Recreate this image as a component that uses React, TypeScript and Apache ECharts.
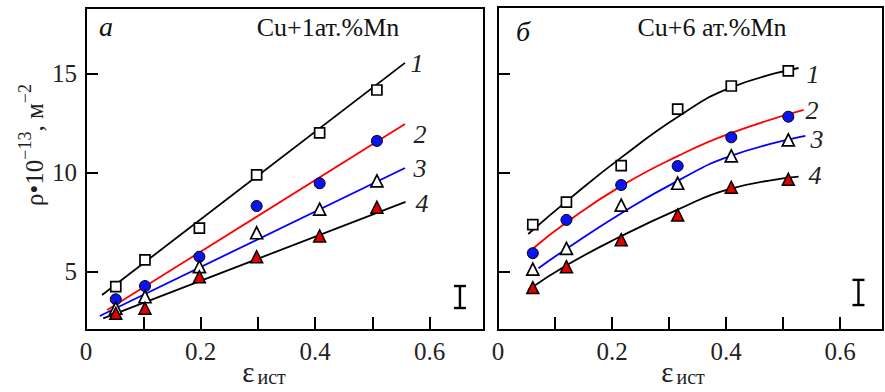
import React, { useEffect, useRef } from 'react';
import * as echarts from 'echarts';

// Panel a: Cu+1ат.%Mn
const xA = [0.052, 0.103, 0.198, 0.298, 0.408, 0.508];
const a1 = [4.26, 5.61, 7.21, 9.9, 12.02, 14.19];
const a2 = [3.62, 4.29, 5.77, 8.33, 9.48, 11.62];
const a3 = [3.17, 3.75, 5.27, 6.98, 8.17, 9.6];
const a4 = [2.91, 3.17, 4.76, 5.77, 6.82, 8.27];
const fitAx1 = [0.028, 0.557];
const fitA1 = [3.84, 15.56];
const fitAx2 = [0.037, 0.557];
const fitA2 = [3.08, 12.47];
const fitAx3 = [0.024, 0.557];
const fitA3 = [2.78, 10.25];
const fitAx4 = [0.03, 0.558];
const fitA4 = [2.66, 8.54];
const errA = [0.653, 3.18, 4.29];

// Panel б: Cu+6 ат.%Mn
const xB = [0.061, 0.12, 0.216, 0.315, 0.409, 0.509];
const b1 = [7.39, 8.53, 10.37, 13.22, 14.39, 15.15];
const b2 = [5.95, 7.63, 9.39, 10.35, 11.8, 12.84];
const b3 = [5.14, 6.19, 8.38, 9.48, 10.86, 11.67];
const b4 = [4.21, 5.27, 6.63, 7.88, 9.28, 9.68];
const fitBx1 = [0.053, 0.129, 0.217, 0.319, 0.407, 0.527];
const fitB1 = [6.92, 8.78, 10.8, 12.9, 14.3, 15.3];
const fitBx2 = [0.062, 0.118, 0.214, 0.315, 0.407, 0.536];
const fitB2 = [6.2, 7.46, 9.31, 10.85, 12.0, 13.18];
const fitBx3 = [0.071, 0.119, 0.217, 0.315, 0.407, 0.539];
const fitB3 = [5.19, 6.15, 7.98, 9.6, 10.85, 11.87];
const fitBx4 = [0.053, 0.121, 0.212, 0.315, 0.407, 0.527];
const fitB4 = [4.09, 5.35, 6.75, 8.15, 9.2, 9.81];
const errB = [0.632, 3.33, 4.6];

const yTicks = [5, 10, 15];
const xTicks = [0.1, 0.2, 0.3, 0.4, 0.5, 0.6];
const xLabels = [0, 0.2, 0.4, 0.6];

const FONT = 'Liberation Serif';

const zip = (xs: number[], ys: number[]) => xs.map((x, i) => [x, ys[i]]);

function App() {
  const ref = useRef<HTMLDivElement>(null);
  useEffect(() => {
    if (!ref.current) return;
    const chart = echarts.init(ref.current, null, { renderer: 'svg' });

    const mkX = (idx: number, max: number) => ({
      type: 'value',
      gridIndex: idx,
      min: 0,
      max,
      axisLine: { show: true, lineStyle: { color: '#000', width: 2 } },
      axisTick: {
        show: true,
        inside: true,
        length: 13,
        customValues: xTicks,
        lineStyle: { color: '#000', width: 2 },
      },
      axisLabel: {
        show: true,
        customValues: xLabels,
        margin: 9,
        fontFamily: FONT,
        fontSize: 25,
        color: '#222',
        formatter: (v: number) => (v === 0 ? '0' : v.toFixed(1)),
      },
      splitLine: { show: false },
    });
    const mkY = (idx: number, showLabels: boolean) => ({
      type: 'value',
      gridIndex: idx,
      min: 2.07,
      max: idx === 0 ? 18.33 : 18.38,
      axisLine: { show: true, lineStyle: { color: '#000', width: 2 } },
      axisTick: {
        show: true,
        inside: true,
        length: 12,
        customValues: yTicks,
        lineStyle: { color: '#000', width: 2 },
      },
      axisLabel: {
        show: showLabels,
        customValues: yTicks,
        margin: 9,
        fontFamily: FONT,
        fontSize: 25,
        color: '#222',
      },
      splitLine: { show: false },
    });

    const lineS = (idx: number, xs: number[], ys: number[], color: string, smooth: boolean) => ({
      type: 'line',
      xAxisIndex: idx,
      yAxisIndex: idx,
      data: zip(xs, ys),
      showSymbol: false,
      smooth: smooth ? 0.5 : false,
      lineStyle: { color, width: 1.8 },
      z: 2,
    });
    const pts = (idx: number, ys: number[], xs: number[], kind: number) => {
      const styles: any[] = [
        { symbol: 'rect', symbolSize: 10, itemStyle: { color: '#fff', borderColor: '#000', borderWidth: 1.7, opacity: 1 } },
        { symbol: 'circle', symbolSize: 11, itemStyle: { color: '#0a14f0', borderColor: '#000', borderWidth: 1, opacity: 1 } },
        { symbol: 'triangle', symbolSize: 12, itemStyle: { color: '#fff', borderColor: '#000', borderWidth: 1.7, opacity: 1 } },
        { symbol: 'triangle', symbolSize: 12, itemStyle: { color: '#e00000', borderColor: '#000', borderWidth: 1.5, opacity: 1 } },
      ];
      return {
        type: 'scatter',
        xAxisIndex: idx,
        yAxisIndex: idx,
        data: zip(xs, ys),
        z: 5,
        ...styles[kind],
      };
    };
    const errS = (idx: number, e: number[]) => ({
      type: 'custom',
      xAxisIndex: idx,
      yAxisIndex: idx,
      data: [e],
      z: 5,
      renderItem: (_p: any, api: any) => {
        const lo = api.coord([api.value(0), api.value(1)]);
        const hi = api.coord([api.value(0), api.value(2)]);
        const w = 6;
        const st = { stroke: '#000', lineWidth: 2.4 };
        return {
          type: 'group',
          children: [
            { type: 'line', shape: { x1: lo[0], y1: lo[1], x2: hi[0], y2: hi[1] }, style: st },
            { type: 'line', shape: { x1: lo[0] - w, y1: lo[1], x2: lo[0] + w, y2: lo[1] }, style: st },
            { type: 'line', shape: { x1: hi[0] - w, y1: hi[1], x2: hi[0] + w, y2: hi[1] }, style: st },
          ],
        };
      },
    });

    const numText = (x: number, y: number, t: string) => ({
      type: 'text',
      x,
      y,
      style: {
        text: t,
        fontFamily: FONT,
        fontStyle: 'italic',
        fontSize: 26,
        fill: '#222',
        align: 'center',
        verticalAlign: 'middle',
      },
    });
    const plain = (x: number, y: number, t: string, size: number, italic = false) => ({
      type: 'text',
      x,
      y,
      style: {
        text: t,
        fontFamily: FONT,
        fontStyle: italic ? 'italic' : 'normal',
        fontSize: size,
        fill: '#111',
        align: 'center',
        verticalAlign: 'middle',
      },
    });
    const epsLabel = (x: number, y: number) => ({
      type: 'text',
      x,
      y,
      style: {
        text: '{e|ε}{s|ист}',
        align: 'center',
        verticalAlign: 'middle',
        rich: {
          e: { fontFamily: FONT, fontSize: 29, fill: '#222', lineHeight: 30, verticalAlign: 'middle' },
          s: { fontFamily: FONT, fontSize: 20, fill: '#222', verticalAlign: 'bottom', padding: [0, 0, 0, 3] },
        },
      },
    });

    chart.setOption({
      animation: false,
      backgroundColor: '#fff',
      grid: [
        { left: 86, top: 8, width: 398, height: 322, show: true, borderColor: '#000', borderWidth: 2 },
        { left: 498, top: 7, width: 385, height: 323, show: true, borderColor: '#000', borderWidth: 2 },
      ],
      xAxis: [mkX(0, 0.695), mkX(1, 0.675)],
      yAxis: [mkY(0, true), mkY(1, false)],
      series: [
        lineS(0, fitAx1, fitA1, '#000', false),
        lineS(0, fitAx2, fitA2, '#ff0000', false),
        lineS(0, fitAx3, fitA3, '#0000ff', false),
        lineS(0, fitAx4, fitA4, '#000', false),
        pts(0, a1, xA, 0),
        pts(0, a2, xA, 1),
        pts(0, a3, xA, 2),
        pts(0, a4, xA, 3),
        errS(0, errA),
        lineS(1, fitBx1, fitB1, '#000', true),
        lineS(1, fitBx2, fitB2, '#ff0000', true),
        lineS(1, fitBx3, fitB3, '#0000ff', true),
        lineS(1, fitBx4, fitB4, '#000', true),
        pts(1, b1, xB, 0),
        pts(1, b2, xB, 1),
        pts(1, b3, xB, 2),
        pts(1, b4, xB, 3),
        errS(1, errB),
      ],
      graphic: [
        plain(106, 26, 'а', 28, true),
        plain(523, 31, 'б', 28, true),
        plain(328, 27, 'Cu+1ат.%Mn', 26),
        plain(712, 27, 'Cu+6 ат.%Mn', 26),
        numText(417, 63, '1'),
        numText(420, 134, '2'),
        numText(420, 168, '3'),
        numText(422, 203, '4'),
        numText(813, 74, '1'),
        numText(812, 110, '2'),
        numText(817, 139, '3'),
        numText(815, 175, '4'),
        epsLabel(264, 372),
        epsLabel(683, 372),
        {
          type: 'text',
          x: 34,
          y: 145,
          rotation: Math.PI / 2,
          style: {
            text: '{a|ρ•10}{s|−13}{a|, м}{s|−2}',
            align: 'center',
            verticalAlign: 'middle',
            rich: {
              a: { fontFamily: FONT, fontSize: 25, fill: '#222', lineHeight: 36, verticalAlign: 'middle' },
              s: { fontFamily: FONT, fontSize: 18, fill: '#222', verticalAlign: 'top' },
            },
          },
        },
      ],
    });
    return () => chart.dispose();
  }, []);
  return (
    <div
      ref={ref}
      style={{ position: 'fixed', left: 0, top: 0, width: 885, height: 392, background: '#fff' }}
    />
  );
}

export default App;
